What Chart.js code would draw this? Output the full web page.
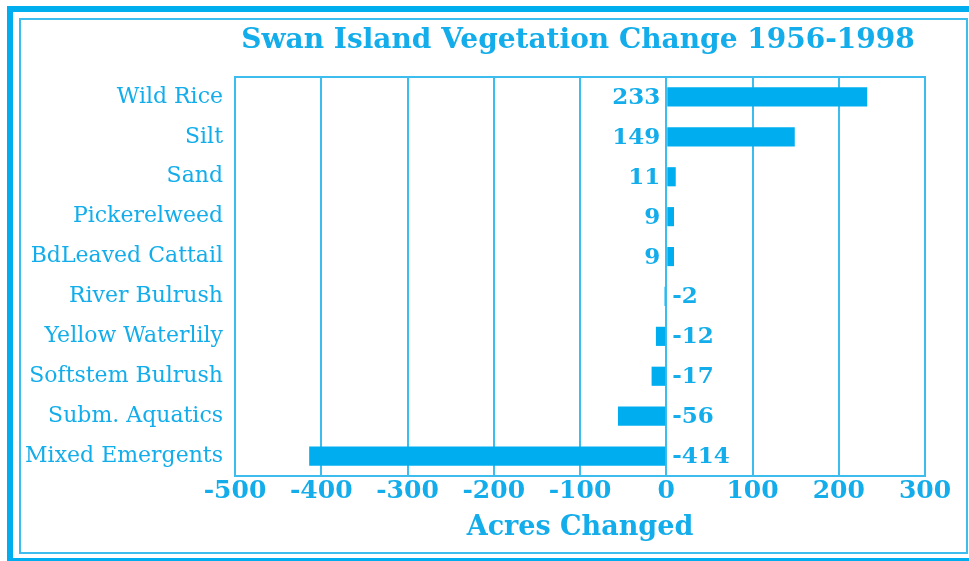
<!DOCTYPE html>
<html>
<head>
<meta charset="utf-8">
<script src="https://cdn.jsdelivr.net/npm/chart.js@4"></script>
<style>
html,body{margin:0;padding:0;background:#fff;}
#wrap{width:969px;height:561px;position:relative;}
</style>
</head>
<body>
<div id="wrap"><canvas id="c" width="969" height="561"></canvas></div>
<script>
const chartTitle = "Swan Island Vegetation Change 1956-1998";
const axisTitle = "Acres Changed";
const categories = ["Wild Rice","Silt","Sand","Pickerelweed","BdLeaved Cattail","River Bulrush","Yellow Waterlily","Softstem Bulrush","Subm. Aquatics","Mixed Emergents"];
const acresChanged = [233,149,11,9,9,-2,-12,-17,-56,-414];
const xMin = -500, xMax = 300, xStep = 100;

const BLUE = "#00AEEF";
const TEXT = "#12ADEA";
const GRID = "#3DBDEE";

const framePlugin = {
  id: "frame",
  beforeDraw(chart) {
    const ctx = chart.ctx;
    ctx.save();
    ctx.fillStyle = "#fff";
    ctx.fillRect(0, 0, chart.width, chart.height);
    ctx.strokeStyle = BLUE;
    ctx.lineWidth = 6;
    ctx.strokeRect(10, 9, 980, 552);
    ctx.strokeStyle = GRID;
    ctx.lineWidth = 2;
    ctx.strokeRect(20, 19, 947, 534);
    ctx.restore();
  },
  afterDraw(chart) {
    const ctx = chart.ctx;
    const a = chart.chartArea;
    ctx.save();
    ctx.strokeStyle = GRID;
    ctx.lineWidth = 2;
    ctx.strokeRect(a.left, a.top, a.right - a.left, a.bottom - a.top);
    // title
    ctx.fillStyle = TEXT;
    ctx.font = "bold 28px 'DejaVu Serif'";
    ctx.textAlign = "center";
    ctx.textBaseline = "middle";
    ctx.fillText(chartTitle, (a.left + a.right) / 2 -2, 41);
    // value labels
    const xs = chart.scales.x;
    const zero = xs.getPixelForValue(0);
    const meta = chart.getDatasetMeta(0);
    ctx.font = "bold 23px 'DejaVu Serif'";
    meta.data.forEach((bar, i) => {
      const v = acresChanged[i];
      if (v >= 0) {
        ctx.textAlign = "right";
        ctx.fillText(String(v), zero - 6, bar.y + 1);
      } else {
        ctx.textAlign = "left";
        ctx.fillText(String(v), zero + 6, bar.y + 1);
      }
    });
    ctx.restore();
  }
};

new Chart(document.getElementById("c"), {
  type: "bar",
  data: {
    labels: categories,
    datasets: [{
      data: acresChanged,
      backgroundColor: BLUE,
      borderWidth: 0,
      categoryPercentage: 1,
      barPercentage: 0.48
    }]
  },
  options: {
    indexAxis: "y",
    responsive: false,
    animation: false,
    devicePixelRatio: 1,
    layout: { padding: { left: 20, right: 44, top: 77, bottom: 17 } },
    plugins: { legend: { display: false }, tooltip: { enabled: false }, title: { display: false } },
    scales: {
      x: {
        min: xMin, max: xMax,
        afterFit(scale) { scale.height = 68; },
        ticks: { stepSize: xStep, color: TEXT, padding: 0, font: { family: "DejaVu Serif", weight: "bold", size: 25 } },
        grid: { color: GRID, lineWidth: 2, drawTicks: false },
        border: { display: true, color: GRID, width: 2 },
        title: { display: true, text: axisTitle, color: TEXT, padding: { top: 0, bottom: 0 }, font: { family: "DejaVu Serif", weight: "bold", size: 27 } }
      },
      y: {
        afterFit(scale) { scale.width = 215; },
        ticks: { color: TEXT, padding: 12, font: { family: "DejaVu Serif", size: 22 } },
        grid: { display: false, drawTicks: false },
        border: { display: true, color: GRID, width: 2 }
      }
    }
  },
  plugins: [framePlugin]
});
</script>
</body>
</html>
